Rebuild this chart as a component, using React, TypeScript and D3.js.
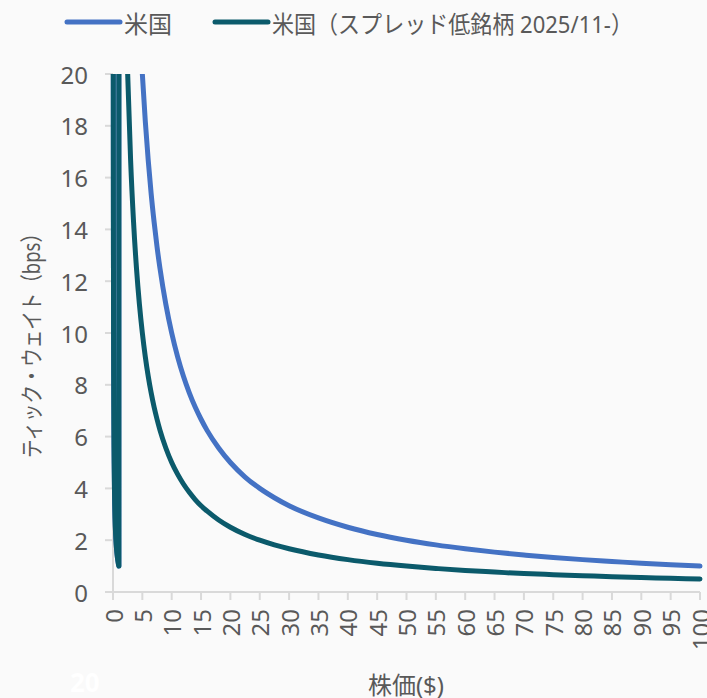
import React from "react";
import * as d3 from "d3";

// Sub-dollar prices (tick $0.0001) — shared by both series
const subDollarPrice = [0.04, 0.05, 0.06, 0.07, 0.08, 0.09, 0.1, 0.12, 0.14, 0.16, 0.18, 0.2, 0.25, 0.3, 0.35, 0.4, 0.45, 0.5, 0.6, 0.7, 0.8, 0.9, 0.9999];
const subDollarBps = [25, 20, 16.67, 14.29, 12.5, 11.11, 10, 8.33, 7.14, 6.25, 5.56, 5, 4, 3.33, 2.86, 2.5, 2.22, 2, 1.67, 1.43, 1.25, 1.11, 1.0];

// Prices from $1 upward
const dollarPrice = [1, 1.5, 2, 2.5, 3, 3.5, 4, 4.5, 5, 5.5, 6, 6.5, 7, 7.5, 8, 9, 10, 11, 12, 13, 14, 15, 16, 18, 20, 22.5, 25, 27.5, 30, 35, 40, 45, 50, 55, 60, 65, 70, 75, 80, 85, 90, 95, 100];
// US tick $0.01
const usBps = [100, 66.67, 50, 40, 33.33, 28.57, 25, 22.22, 20, 18.18, 16.67, 15.38, 14.29, 13.33, 12.5, 11.11, 10, 9.09, 8.33, 7.69, 7.14, 6.67, 6.25, 5.56, 5, 4.44, 4, 3.64, 3.33, 2.86, 2.5, 2.22, 2, 1.82, 1.67, 1.54, 1.43, 1.33, 1.25, 1.18, 1.11, 1.05, 1];
// US low-spread names, tick $0.005 (from 2025/11)
const usLowSpreadBps = [50, 33.33, 25, 20, 16.67, 14.29, 12.5, 11.11, 10, 9.09, 8.33, 7.69, 7.14, 6.67, 6.25, 5.56, 5, 4.55, 4.17, 3.85, 3.57, 3.33, 3.13, 2.78, 2.5, 2.22, 2, 1.82, 1.67, 1.43, 1.25, 1.11, 1, 0.91, 0.83, 0.77, 0.71, 0.67, 0.63, 0.59, 0.56, 0.53, 0.5];

const seriesNames = ["米国", "米国（スプレッド低銘柄 2025/11-）"];
const seriesColors = ["#4472C4", "#0B5A6B"];
const xTicks = d3.range(0, 101, 5);
const yTicks = d3.range(0, 21, 2);

const W = 707;
const H = 698;
const FONT = "'Noto Sans', 'Noto Sans CJK JP', sans-serif";
const TEXT = "#595959";
const AXIS = "#d9d9d9";

export default function App() {
  const x = d3.scaleLinear().domain([0, 100]).range([113, 700]);
  const y = d3.scaleLinear().domain([0, 20]).range([592, 74]);

  const build = (vals: number[]) => {
    const pts: [number, number][] = [];
    subDollarPrice.forEach((p, i) => pts.push([p, subDollarBps[i]]));
    dollarPrice.forEach((p, i) => pts.push([p, vals[i]]));
    return pts;
  };
  const series = [build(usBps), build(usLowSpreadBps)];

  const line = d3
    .line<[number, number]>()
    .x((d) => x(d[0]))
    .y((d) => y(d[1]))
    .curve(d3.curveMonotoneX);

  return (
    <svg
      width={W}
      height={H}
      style={{ position: "absolute", left: 0, top: 0, display: "block" }}
      fontFamily={FONT}
    >
      <rect x={0} y={0} width={W} height={H} fill="#fafafa" />
      <defs>
        <clipPath id="plot">
          <rect x={90} y={y(20)} width={W - 90} height={H - y(20)} />
        </clipPath>
      </defs>

      {/* legend */}
      <g>
        <line x1={67} x2={120} y1={22} y2={22} stroke={seriesColors[0]} strokeWidth={5} strokeLinecap="round" />
        <text x={124} y={23} fontSize={24} fill={TEXT} dominantBaseline="central" textLength={48} lengthAdjust="spacingAndGlyphs">{seriesNames[0]}</text>
        <line x1={215} x2={268} y1={22} y2={22} stroke={seriesColors[1]} strokeWidth={5} strokeLinecap="round" />
        <text x={272} y={23} fontSize={24} fill={TEXT} dominantBaseline="central" textLength={361} lengthAdjust="spacingAndGlyphs">{seriesNames[1]}</text>
      </g>

      {/* axes */}
      <line x1={x(0)} x2={x(0)} y1={y(20)} y2={y(0)} stroke={AXIS} strokeWidth={2} />
      <line x1={105} x2={x(100)} y1={y(0)} y2={y(0)} stroke={AXIS} strokeWidth={2} />
      {yTicks.map((t) => (
        <g key={"y" + t}>
          <line x1={105} x2={x(0)} y1={y(t)} y2={y(t)} stroke={AXIS} strokeWidth={2} />
          <text x={88} y={y(t)} fontSize={24} fill={TEXT} textAnchor="end" dominantBaseline="central">{t}</text>
        </g>
      ))}
      {xTicks.map((t) => (
        <g key={"x" + t}>
          <line x1={x(t)} x2={x(t)} y1={y(0)} y2={y(0) + 8} stroke={AXIS} strokeWidth={2} />
          <text
            transform={`translate(${x(t)},${609}) rotate(-90)`}
            fontSize={24}
            fill={TEXT}
            textAnchor="end"
            dominantBaseline="central"
          >
            {t}
          </text>
        </g>
      ))}

      {/* series */}
      <g clipPath="url(#plot)">
        {series.map((s, i) => (
          <path
            key={i}
            d={line(s) || ""}
            fill="none"
            stroke={seriesColors[i]}
            strokeWidth={5}
            strokeLinecap="round"
            strokeLinejoin="round"
          />
        ))}
      </g>

      {/* axis titles */}
      <text x={406} y={684} fontSize={24} fill={TEXT} textAnchor="middle" dominantBaseline="central">株価($)</text>
      <text
        transform={`translate(31,341) rotate(-90)`}
        fontSize={23}
        fill={TEXT}
        textAnchor="middle"
        dominantBaseline="central"
        textLength={234}
        lengthAdjust="spacingAndGlyphs"
      >
        ティック・ウェイト（bps）
      </text>
      <text x={70} y={692} fontSize={26} fontWeight="bold" fill="#ffffff">20</text>
    </svg>
  );
}
